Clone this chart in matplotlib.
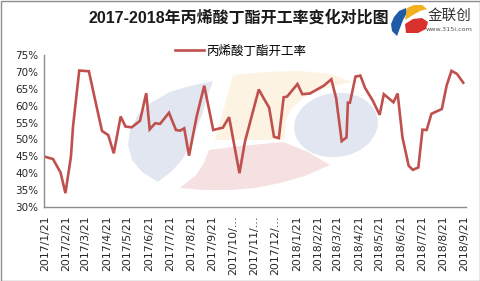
import numpy as np
import matplotlib.pyplot as plt
from matplotlib.patches import Polygon, Ellipse, Rectangle

# --- данные ---
dates = [
    "2017-01-21", "2017-02-02", "2017-02-13", "2017-02-20", "2017-02-28", "2017-03-03",
    "2017-03-12", "2017-03-26", "2017-04-04", "2017-04-14", "2017-04-23", "2017-05-01",
    "2017-05-11", "2017-05-18", "2017-05-27", "2017-06-08", "2017-06-17", "2017-06-22",
    "2017-06-30", "2017-07-07", "2017-07-20", "2017-07-30", "2017-08-05", "2017-08-11",
    "2017-08-18", "2017-08-29", "2017-09-09", "2017-09-22", "2017-10-06", "2017-10-15",
    "2017-10-30", "2017-11-07", "2017-11-27", "2017-12-04", "2017-12-12", "2017-12-19",
    "2017-12-26", "2018-01-02", "2018-01-07", "2018-01-22", "2018-01-29", "2018-02-09",
    "2018-03-01", "2018-03-12", "2018-03-19", "2018-03-27", "2018-04-03", "2018-04-05",
    "2018-04-08", "2018-04-16", "2018-04-23", "2018-04-30", "2018-05-11", "2018-05-21",
    "2018-05-27", "2018-06-10", "2018-06-16", "2018-06-23", "2018-07-02", "2018-07-08",
    "2018-07-16", "2018-07-22", "2018-07-28", "2018-08-04", "2018-08-19", "2018-08-26",
    "2018-09-02", "2018-09-10", "2018-09-19",
]
rate = [
    44.9, 44.2, 40.2, 34.1, 44.9, 53.8,
    70.4, 70.2, 61.7, 52.5, 51.3, 45.9,
    56.8, 53.8, 53.6, 55.5, 63.7, 53.0,
    54.8, 54.6, 57.9, 52.8, 52.6, 53.3,
    45.2, 56.8, 65.9, 52.8, 53.5, 56.6,
    40.0, 49.4, 64.8, 62.2, 59.4, 50.8,
    50.4, 62.5, 62.7, 66.4, 63.4, 63.6,
    65.9, 67.8, 62.2, 49.5, 50.6, 60.9,
    60.9, 68.6, 68.9, 65.2, 61.5, 57.3,
    63.4, 61.0, 63.6, 50.6, 42.2, 41.0,
    41.7, 52.9, 52.8, 57.6, 59.0, 66.0,
    70.3, 69.4, 66.8,
]
tick_dates = [
    "2017-01-21", "2017-02-21", "2017-03-21", "2017-04-21", "2017-05-21", "2017-06-21",
    "2017-07-21", "2017-08-21", "2017-09-21", "2017-10-21", "2017-11-21", "2017-12-21",
    "2018-01-21", "2018-02-21", "2018-03-21", "2018-04-21", "2018-05-21", "2018-06-21",
    "2018-07-21", "2018-08-21", "2018-09-21",
]
tick_labels = [
    "2017/1/21", "2017/2/21", "2017/3/21", "2017/4/21", "2017/5/21", "2017/6/21",
    "2017/7/21", "2017/8/21", "2017/9/21", "2017/10/…", "2017/11/…", "2017/12/…",
    "2018/1/21", "2018/2/21", "2018/3/21", "2018/4/21", "2018/5/21", "2018/6/21",
    "2018/7/21", "2018/8/21", "2018/9/21",
]
yticks = [30, 35, 40, 45, 50, 55, 60, 65, 70, 75]

title = "2017-2018年丙烯酸丁酯开工率变化对比图"
series_name = "丙烯酸丁酯开工率"

CJK = ['Noto Sans CJK SC', 'DejaVu Sans']
LINE_RED = '#C0504D'

fig = plt.figure(figsize=(4.81, 2.81), dpi=100)

# --- фон: водяной знак и логотип (в пикселях картинки) ---
bg = fig.add_axes([0, 0, 1, 1], zorder=0)
bg.set_xlim(0, 481)
bg.set_ylim(281, 0)
bg.axis('off')

# левый голубой лист
bg.add_patch(Polygon([(213, 81), (190, 86), (170, 92), (152, 102), (138, 115),
                      (130, 130), (128, 145), (132, 160), (142, 172), (158, 182),
                      (172, 171), (182, 160), (190, 145), (196, 130), (202, 115),
                      (207, 98)],
                     closed=True, fc='#E2E6F0', ec='none'))
# жёлтый
bg.add_patch(Polygon([(233, 75), (265, 72), (300, 71), (330, 74), (352, 82),
                      (330, 87), (315, 92), (302, 99), (292, 108), (286, 120),
                      (284, 140), (215, 140), (224, 108)],
                     closed=True, fc='#FCF3E2', ec='none'))
# розовый
bg.add_patch(Polygon([(209, 150), (240, 146), (283, 142), (308, 152), (330, 165),
                      (305, 176), (280, 183), (255, 188), (230, 190), (205, 190),
                      (180, 188), (196, 175), (204, 163)],
                     closed=True, fc='#F6E1E2', ec='none'))
# правый голубой овал
bg.add_patch(Ellipse((336, 125), 84, 64, angle=-8, fc='#E2E6F0', ec='none'))

# логотип
bg.add_patch(Polygon([(406, 8), (399, 11), (394, 17), (391, 24), (392, 31),
                      (397, 36), (400, 28), (403, 20), (407, 13)],
                     closed=True, fc='#1F5AA6', ec='none'))
bg.add_patch(Polygon([(407, 8), (414, 5), (422, 5), (427, 9), (420, 11),
                      (413, 15), (405, 20)], closed=True, fc='#F2B01E', ec='none'))
bg.add_patch(Polygon([(405, 24), (413, 19), (422, 18), (428, 22), (426, 29),
                      (418, 33), (406, 33)], closed=True, fc='#D9322E', ec='none'))
bg.text(450, 16, "金联创", fontsize=10.5, family=CJK, color='#333333',
        ha='center', va='center')
bg.text(449.5, 29.5, "www.315i.com", fontsize=4.6, family='DejaVu Sans',
        color='#555555', ha='center', va='center')

# рамка вокруг рисунка
fig.patches.append(Rectangle((0.5 / 481, 0.5 / 281), 479.5 / 481, 279.5 / 281,
                             transform=fig.transFigure, fill=False,
                             ec='#8C8C8C', lw=1.0))

# --- основной график ---
ax = fig.add_axes([44 / 481, 1 - 207 / 281, 422 / 481, 152 / 281], zorder=1)
ax.patch.set_alpha(0)

x = [np.datetime64(d) for d in dates]
line, = ax.plot(x, rate, color=LINE_RED, lw=1.9, solid_joinstyle='miter',
                label=series_name)

ax.set_ylim(30, 75)
ax.set_yticks(yticks)
ax.set_yticklabels([f"{v}%" for v in yticks])
ax.set_xlim(np.datetime64("2017-01-20"), np.datetime64("2018-09-23"))
ax.set_xticks([np.datetime64(d) for d in tick_dates])
ax.set_xticklabels(tick_labels, rotation=90, va='top', ha='center')

ax.tick_params(axis='y', length=0, pad=4, labelsize=7.5, labelcolor='#262626')
ax.tick_params(axis='x', length=0, pad=6, labelsize=7.8, labelcolor='#262626')
for lab in ax.get_yticklabels() + ax.get_xticklabels():
    lab.set_family('DejaVu Sans')

for s in ['top', 'right']:
    ax.spines[s].set_visible(False)
for s in ['left', 'bottom']:
    ax.spines[s].set_color('#8C8C8C')
    ax.spines[s].set_linewidth(1.0)

fig.text(239 / 481, 1 - 18 / 281, title, fontsize=11.5, fontweight='bold',
         family=['Liberation Sans', 'Noto Sans CJK SC'], color='#1A1A1A',
         ha='center', va='center')

fig.legend(handles=[line], loc='center', bbox_to_anchor=(0.5, 1 - 51 / 281),
           frameon=False, prop={'family': CJK, 'size': 9},
           handlelength=2.3, handletextpad=0.2, borderpad=0)

fig.savefig("out.png", dpi=100)
